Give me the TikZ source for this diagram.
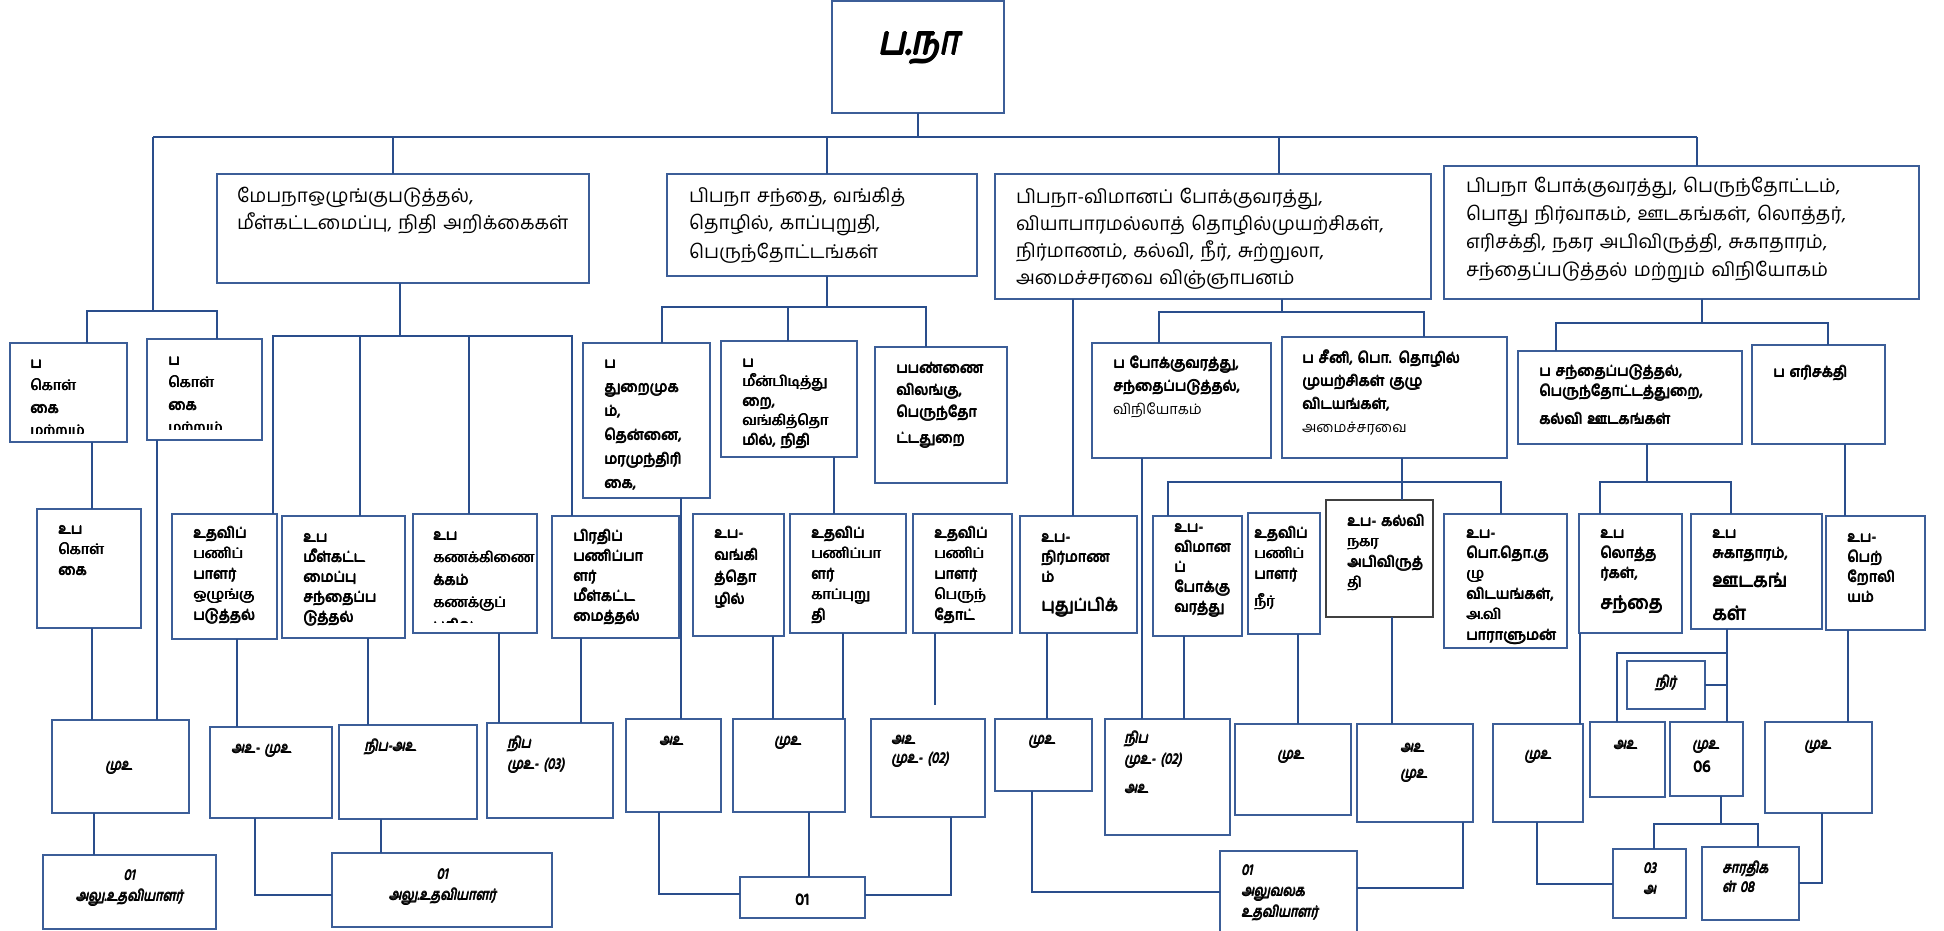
\documentclass[tikz,border=0pt]{standalone}
\usepackage{fontspec}
\setmainfont{Hind Madurai}[Script=Tamil]
\newfontfamily\ti{Hind Madurai}[Script=Tamil,FakeSlant=0.2,FakeStretch=0.85]
\definecolor{bxc}{RGB}{60,94,152}
\definecolor{lnc}{RGB}{42,78,140}
\definecolor{gbx}{RGB}{64,64,64}
\newcommand\bx[6][]{\pgfmathsetlengthmacro\bxw{#5-#3}\pgfmathsetlengthmacro\bxh{#6-#4}%
  \node[box,#1,minimum width=\bxw,minimum height=\bxh,anchor=north west] (#2) at (#3,#4) {};}
% bold text by overprinting
\newcommand\TB[5][]{\node[#1] (#2) at (#3,#4) {#5};\node[#1] (#2x) at (#3+0.75,#4) {#5};\node[#1] (#2y) at (#3+0.4,#4-0.45) {#5};}
\tikzset{
  box/.style={draw=bxc,line width=1.6pt,fill=white,inner sep=0pt,outer sep=0pt,rectangle},
  ln/.style={draw=lnc,line width=1.7pt},
  txt/.style={inner sep=0pt,outer sep=0pt,align=left,anchor=base west,text width=520pt},
  l2/.style={txt,font=\fontsize{19}{27.5}\selectfont},
  bd/.style={txt,font=\fontsize{14.5}{20.5}\selectfont},
  it/.style={txt,font=\ti\fontsize{15}{21}\selectfont},
  itc/.style={inner sep=0pt,outer sep=0pt,align=center,anchor=base,font=\ti\fontsize{15}{21}\selectfont},
  ttl/.style={inner sep=0pt,anchor=base,font=\ti\fontsize{40}{44}\selectfont},
}
\begin{document}
\begin{tikzpicture}[x=1pt,y=-1pt]
\useasboundingbox (0,0) rectangle (1944,931);
\fill[white] (0,0) rectangle (1944,931);
\coordinate (busL) at (153,137);
\coordinate (busR) at (1697,137);
\draw[ln] (busL) -- (busR);
% ---------------- boxes ----------------
\bx{T}{832}{1}{1004}{113}
\node[ttl] (Tt) at (918,55) {ப.நா};
\node[ttl] (Ttx) at (919.6,55) {ப.நா};
\node[ttl] (Tty) at (918.8,54) {ப.நா};
\node[ttl] (Ttz) at (918.8,56) {ப.நா};
% level 2
\bx{A2}{217}{174}{589}{283}
\bx{B2x}{667}{174}{977}{276}
\bx{C2x}{995}{174}{1431}{299}
\bx{D2x}{1444}{166}{1919}{299}
\node[l2] (A2t) at (237,202) {மேபநாஒழுங்குபடுத்தல்,\\மீள்கட்டமைப்பு, நிதி அறிக்கைகள்};
\node[l2,font=\fontsize{19}{28}\selectfont] (B2t) at (689,202) {பிபநா சந்தை, வங்கித்\\தொழில், காப்புறுதி,\\பெருந்தோட்டங்கள்};
\node[l2,font=\fontsize{19}{27.3}\selectfont] (C2t) at (1016,203) {பிபநா-விமானப் போக்குவரத்து,\\வியாபாரமல்லாத் தொழில்முயற்சிகள்,\\நிர்மாணம், கல்வி, நீர், சுற்றுலா,\\அமைச்சரவை விஞ்ஞாபனம்};
\node[l2,font=\fontsize{19}{28}\selectfont] (D2t) at (1466,193) {பிபநா போக்குவரத்து, பெருந்தோட்டம்,\\பொது நிர்வாகம், ஊடகங்கள், லொத்தர்,\\எரிசக்தி, நகர அபிவிருத்தி, சுகாதாரம்,\\சந்தைப்படுத்தல் மற்றும் விநியோகம்};
% left group
\bx{P1}{10}{343}{127}{442}
\begin{scope}\clip (11,344) rectangle (126,433);
\TB[bd,font=\fontsize{14.5}{22.5}\selectfont]{P1t}{30}{368}{ப\\கொள்\\கை\\மற்றும்}
\end{scope}
\bx{P2}{147}{339}{262}{440}
\begin{scope}\clip (148,340) rectangle (261,429);
\TB[bd,font=\fontsize{14.5}{22.5}\selectfont]{P2t}{168}{365}{ப\\கொள்\\கை\\மற்றும்}
\end{scope}
\bx{P3}{37}{509}{141}{628}
\TB[bd]{P3t}{58}{534}{உப\\கொள்\\கை}
\bx{P4}{52}{720}{189}{813}
\TB[it]{P4t}{105}{770}{முஉ}
\bx{P5}{43}{855}{216}{929}
\TB[itc]{P5t}{129}{901}{01\\அலு.உதவியாளர்}
% group A
\bx{B1}{172}{514}{277}{639}
\TB[bd]{B1t}{193}{538}{உதவிப்\\பணிப்\\பாளர்\\ஒழுங்கு\\படுத்தல்}
\bx{B2}{282}{516}{405}{638}
\TB[bd,font=\fontsize{14.5}{20}\selectfont]{B2t}{303}{542}{உப\\மீள்கட்ட\\மைப்பு\\சந்தைப்ப\\டுத்தல்}
\bx{B3}{413}{514}{537}{633}
\begin{scope}\clip (414,515) rectangle (536,622);
\TB[bd,font=\fontsize{14.5}{22.5}\selectfont]{B3t}{433}{540}{உப\\கணக்கிணை\\க்கம்\\கணக்குப்\\பதிவு}
\end{scope}
\bx{B4}{552}{516}{679}{638}
\TB[bd,font=\fontsize{14.5}{20}\selectfont]{B4t}{573}{541}{பிரதிப்\\பணிப்பா\\ளர்\\மீள்கட்ட\\மைத்தல்}
\bx{A5a}{210}{727}{332}{818}
\TB[it]{A5at}{231}{753}{அஉ- முஉ}
\bx{A5b}{339}{725}{477}{819}
\TB[it]{A5bt}{364}{751}{நிப-அஉ}
\bx{A5c}{487}{723}{613}{818}
\TB[it]{A5ct}{507}{748}{நிப\\முஉ- (03)}
\bx{A6}{332}{853}{552}{927}
\TB[itc]{A6t}{442}{900}{01\\அலு.உதவியாளர்}
% group B
\bx{C1}{583}{343}{710}{498}
\TB[bd,font=\fontsize{14.5}{24}\selectfont]{C1t}{604}{368}{ப\\துறைமுக\\ம்,\\தென்னை,\\மரமுந்திரி\\கை,}
\bx{C2}{721}{341}{857}{457}
\TB[bd,font=\fontsize{14.5}{19.5}\selectfont]{C2t}{742}{367}{ப\\மீன்பிடித்து\\றை,\\வங்கித்தொ\\மில், நிதி}
\bx{C3}{875}{347}{1007}{483}
\TB[bd,font=\fontsize{14.5}{22}\selectfont]{C3t}{896}{373}{பபண்ணை\\விலங்கு,\\பெருந்தோ\\[4pt]ட்டதுறை}
\bx{D1}{693}{514}{784}{636}
\TB[bd,font=\fontsize{14.5}{22}\selectfont]{D1t}{714}{538}{உப-\\வங்கி\\த்தொ\\ழில்}
\bx{D2}{790}{514}{906}{633}
\TB[bd]{D2t}{811}{538}{உதவிப்\\பணிப்பா\\ளர்\\காப்புறு\\தி}
\bx{D3}{913}{514}{1012}{633}
\TB[bd]{D3t}{934}{538}{உதவிப்\\பணிப்\\பாளர்\\பெருந்\\தோட்}
\bx{E1}{626}{719}{721}{812}
\TB[it]{E1t}{659}{745}{அஉ}
\bx{E2}{733}{719}{845}{812}
\TB[it]{E2t}{774}{745}{முஉ}
\bx{E3}{871}{719}{985}{817}
\TB[it,font=\ti\fontsize{15}{19}\selectfont]{E3t}{891}{744}{அஉ\\முஉ- (02)}
\bx{E4}{740}{877}{865}{918}
\TB[inner sep=0pt,anchor=base,font=\fontsize{16}{18}\selectfont]{E4t}{802}{905}{01}
% group C
\bx{F1}{1092}{343}{1271}{458}
\TB[bd,font=\fontsize{14.5}{23}\selectfont]{F1t}{1113}{368}{ப போக்குவரத்து,\\சந்தைப்படுத்தல்,}
\node[bd] (F1r) at (1113,414) {விநியோகம்};
\bx{F2}{1282}{337}{1507}{458}
\TB[bd,font=\fontsize{14.5}{23}\selectfont]{F2t}{1302}{363}{ப சீனி, பொ. தொழில்\\முயற்சிகள் குழு\\விடயங்கள்,}
\node[bd] (F2r) at (1302,432) {அமைச்சரவை};
\bx{G}{1020}{516}{1137}{633}
\TB[bd,font=\fontsize{14.5}{20}\selectfont]{Gt}{1041}{542}{உப-\\நிர்மாண\\ம்}
\TB[bd,font=\fontsize{17}{20}\selectfont]{Gt2}{1041}{611}{புதுப்பிக்}
\bx{I1}{1153}{516}{1242}{636}
\TB[bd,font=\fontsize{14.5}{20}\selectfont]{I1t}{1174}{532}{உப-\\விமான\\ப்\\போக்கு\\வரத்து}
\bx{I2}{1248}{513}{1320}{634}
\TB[bd,font=\fontsize{14.5}{20.5}\selectfont]{I2t}{1254}{538}{உதவிப்\\பணிப்\\பாளர்\\[7pt]நீர்}
\bx[draw=gbx]{I3}{1326}{500}{1433}{617}
\TB[bd]{I3t}{1347}{526}{உப- கல்வி\\நகர\\அபிவிருத்\\தி}
\bx{I4}{1444}{514}{1567}{648}
\TB[bd,font=\fontsize{14.5}{20.4}\selectfont]{I4t}{1466}{538}{உப-\\பொ.தொ.கு\\ழு\\விடயங்கள்,\\அ.வி\\பாராளுமன்}
\bx{H1}{995}{719}{1092}{791}
\TB[it]{H1t}{1028}{744}{முஉ}
\bx{H2}{1105}{719}{1230}{835}
\TB[it]{H2t}{1124}{743}{நிப\\முஉ- (02)\\[8pt]அஉ}
\bx{H3}{1235}{724}{1351}{815}
\TB[it]{H3t}{1277}{759}{முஉ}
\bx{H4}{1357}{724}{1473}{822}
\TB[it,font=\ti\fontsize{15}{26}\selectfont]{H4t}{1400}{752}{அஉ\\முஉ}
\bx{J}{1220}{851}{1357}{940}
\TB[it]{Jt}{1241}{875}{01\\அலுவலக\\உதவியாளர்}
% group D
\bx{K1}{1518}{351}{1742}{444}
\TB[bd,font=\fontsize{14.5}{20}\selectfont]{K1t}{1539}{376}{ப சந்தைப்படுத்தல்,\\பெருந்தோட்டத்துறை,\\[8pt]கல்வி ஊடகங்கள்}
\bx{K2}{1752}{345}{1885}{444}
\TB[bd]{K2t}{1773}{377}{ப எரிசக்தி}
\bx{L1}{1579}{514}{1682}{633}
\TB[bd,font=\fontsize{14.5}{20}\selectfont]{L1t}{1600}{538}{உப\\லொத்த\\ர்கள்,}
\TB[bd,font=\fontsize{18}{20}\selectfont]{L1t2}{1600}{609}{சந்தை}
\bx{L2}{1691}{514}{1822}{629}
\TB[bd,font=\fontsize{14.5}{20}\selectfont]{L2t}{1712}{538}{உப\\சுகாதாரம்,}
\TB[bd,font=\fontsize{19}{33}\selectfont]{L2t2}{1712}{587}{ஊடகங்\\கள்}
\bx{L3}{1826}{516}{1925}{630}
\TB[bd,font=\fontsize{14.5}{20}\selectfont]{L3t}{1847}{542}{உப-\\பெற்\\றோலி\\யம்}
\bx{M1}{1493}{724}{1583}{822}
\TB[it]{M1t}{1524}{759}{முஉ}
\bx{M2}{1590}{722}{1665}{797}
\TB[it]{M2t}{1613}{749}{அஉ}
\bx{M3}{1670}{722}{1743}{796}
\TB[it]{M3t}{1692}{749}{முஉ}
\TB[inner sep=0pt,anchor=base west,font=\fontsize{16}{18}\selectfont]{M3n}{1693}{772}{06}
\bx{M4}{1765}{722}{1872}{813}
\TB[it]{M4t}{1804}{749}{முஉ}
\bx{nir}{1627}{661}{1705}{709}
\TB[it]{nirt}{1655}{687}{நிர்}
\bx{N1}{1613}{849}{1686}{918}
\TB[it]{N1t}{1643}{873}{03\\அ}
\bx{N2}{1702}{847}{1799}{920}
\TB[it,font=\ti\fontsize{15}{19}\selectfont]{N2t}{1722}{873}{சாரதிக\\ள் 08}
% ---------------- connectors ----------------
\draw[ln] (T.south) -- (T.south |- busL);
\draw[ln] (393,137) -- (A2.north -| 393,0);
\draw[ln] (827,137) -- (B2x.north -| 827,0);
\draw[ln] (1279,137) -- (C2x.north -| 1279,0);
\draw[ln] (busR) -- (D2x.north -| busR);
% left
\draw[ln] (busL) -- (153,311);
\draw[ln] (P1.north -| 87,0) -- (87,311) -- (217,311) -- (P2.north -| 217,0);
\draw[ln] (P1.south -| 92,0) -- (P3.north -| 92,0);
\draw[ln] (P3.south -| 92,0) -- (P4.north -| 92,0);
\draw[ln] (P4.south -| 94,0) -- (P5.north -| 94,0);
\draw[ln] (P2.south -| 157,0) -- (P4.north -| 157,0);
% A
\draw[ln] (A2.south -| 400,0) -- (400,336);
\draw[ln] (B1.north -| 273,0) -- (273,336) -- (572,336) -- (B4.north -| 572,0);
\draw[ln] (360,336) -- (B2.north -| 360,0);
\draw[ln] (469,336) -- (B3.north -| 469,0);
\draw[ln] (B1.south -| 237,0) -- (A5a.north -| 237,0);
\draw[ln] (B2.south -| 368,0) -- (A5b.north -| 368,0);
\draw[ln] (B3.south -| 499,0) -- (A5c.north -| 499,0);
\draw[ln] (B4.south -| 581,0) -- (A5c.north -| 581,0);
\draw[ln] (A5a.south -| 255,0) |- (A6.west |- 0,895);
\draw[ln] (A5b.south -| 381,0) -- (A6.north -| 381,0);
% B
\draw[ln] (B2x.south -| 827,0) -- (827,307);
\draw[ln] (C1.north -| 662,0) -- (662,307) -- (926,307) -- (C3.north -| 926,0);
\draw[ln] (788,307) -- (C2.north -| 788,0);
\draw[ln] (C1.south -| 681,0) -- (E1.north -| 681,0);
\draw[ln] (C2.south -| 834,0) -- (D2.north -| 834,0);
\draw[ln] (D1.south -| 773,0) -- (E2.north -| 773,0);
\draw[ln] (D2.south -| 843,0) -- (E2.north -| 843,0);
\coordinate (d3e) at (935,705);
\draw[ln] (D3.south -| d3e) -- (d3e);
\draw[ln] (E1.south -| 659,0) |- (E4.west |- 0,894);
\draw[ln] (E2.south -| 809,0) -- (E4.north -| 809,0);
\draw[ln] (E3.south -| 951,0) |- (E4.east |- 0,895);
% C
\draw[ln] (C2x.south -| 1282,0) -- (1282,312);
\draw[ln] (F1.north -| 1159,0) -- (1159,312) -- (1424,312) -- (F2.north -| 1424,0);
\draw[ln] (C2x.south -| 1073,0) -- (G.north -| 1073,0);
\draw[ln] (F1.south -| 1142,0) -- (H2.north -| 1142,0);
\draw[ln] (F2.south -| 1402,0) -- (I3.north -| 1402,0);
\draw[ln] (I1.north -| 1168,0) -- (1168,482) -- (1501,482) -- (I4.north -| 1501,0);
\draw[ln] (G.south -| 1047,0) -- (H1.north -| 1047,0);
\draw[ln] (I1.south -| 1184,0) -- (H2.north -| 1184,0);
\draw[ln] (I2.south -| 1298,0) -- (H3.north -| 1298,0);
\draw[ln] (I3.south -| 1392,0) -- (H4.north -| 1392,0);
\draw[ln] (H1.south -| 1032,0) |- (J.west |- 0,892);
\draw[ln] (H4.south -| 1463,0) |- (J.east |- 0,888);
% D
\draw[ln] (D2x.south -| 1702,0) -- (1702,323);
\draw[ln] (K1.north -| 1556,0) -- (1556,323) -- (1828,323) -- (K2.north -| 1828,0);
\draw[ln] (K1.south -| 1647,0) -- (1647,482);
\draw[ln] (L1.north -| 1600,0) -- (1600,482) -- (1731,482) -- (L2.north -| 1731,0);
\draw[ln] (K2.south -| 1845,0) -- (L3.north -| 1845,0);
\draw[ln] (L1.south -| 1580,0) -- (M1.north -| 1580,0);
\draw[ln] (L2.south -| 1727,0) -- (1727,653);
\draw[ln] (M2.north -| 1617,0) -- (1617,653) -- (1727,653) -- (M3.north -| 1727,0);
\draw[ln] (nir.east) -- (nir.east -| 1727,0);
\draw[ln] (L3.south -| 1848,0) -- (M4.north -| 1848,0);
\draw[ln] (M3.south -| 1721,0) -- (1721,824);
\draw[ln] (N1.north -| 1654,0) -- (1654,824) -- (1758,824) -- (N2.north -| 1758,0);
\draw[ln] (M1.south -| 1537,0) |- (N1.west |- 0,884);
\draw[ln] (M4.south -| 1822,0) |- (N2.east |- 0,883);
\end{tikzpicture}
\end{document}
